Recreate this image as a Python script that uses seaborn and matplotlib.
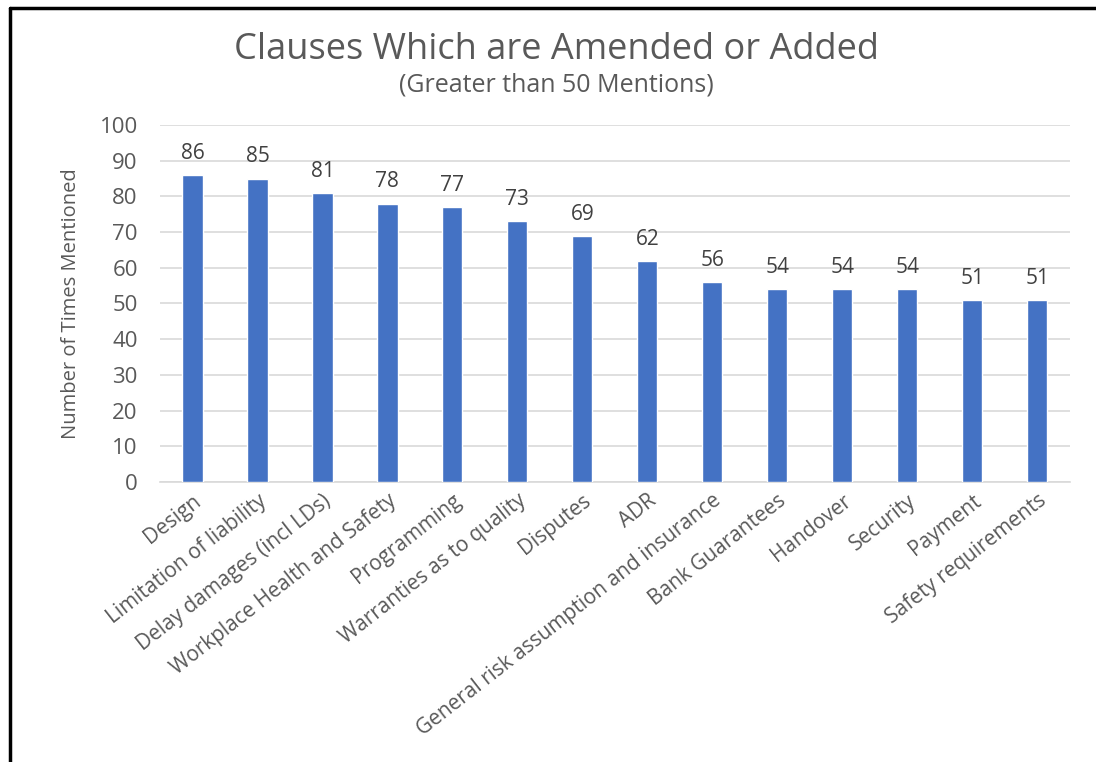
import matplotlib
matplotlib.use("Agg")
import matplotlib.pyplot as plt
import seaborn as sns
import pandas as pd
from matplotlib.lines import Line2D

categories = ["Design", "Limitation of liability", "Delay damages (incl LDs)",
              "Workplace Health and Safety", "Programming", "Warranties as to quality",
              "Disputes", "ADR", "General risk assumption and insurance",
              "Bank Guarantees", "Handover", "Security", "Payment", "Safety requirements"]
values = [86, 85, 81, 78, 77, 73, 69, 62, 56, 54, 54, 54, 51, 51]
yticks = [0, 10, 20, 30, 40, 50, 60, 70, 80, 90, 100]

sns.set_theme(style="white")
plt.rcParams['font.family'] = ['Open Sans', 'DejaVu Sans']

df = pd.DataFrame({"Clause": categories, "Count": values})

fig = plt.figure(figsize=(10.96, 7.62), dpi=100)
ax = fig.add_axes([0.146, 0.3675, 0.830, 0.4685])
sns.barplot(data=df, x="Clause", y="Count", color="#4472C4", width=0.31,
            saturation=1, ax=ax, zorder=3)
ax.set_ylim(0, 100)
ax.set_yticks(yticks)
ax.yaxis.grid(True, color="#D9D9D9", linewidth=1.2, zorder=0)
ax.set_axisbelow(True)
for s in ["top", "right", "left"]:
    ax.spines[s].set_visible(False)
ax.spines["bottom"].set_color("#D9D9D9")
ax.spines["bottom"].set_linewidth(1.2)
ax.tick_params(axis="y", colors="#595959", labelsize=16, length=0, pad=16)
ax.tick_params(axis="x", colors="#595959", labelsize=15, length=0, pad=6)
ax.set_xticks(range(len(categories)))
ax.set_xticklabels(categories, rotation=38, ha="right", rotation_mode="anchor",
                   fontsize=15, color="#595959")
ax.set_xlabel("")
ax.set_ylabel("Number of Times Mentioned", fontsize=14.5, color="#595959", labelpad=13)

for c in ax.containers:
    ax.bar_label(c, labels=[str(v) for v in values], padding=8, fontsize=15, color="#404040")

fig.text(0.508, 0.935, "Clauses Which are Amended or Added", ha="center", va="center",
         fontsize=26, color="#595959")
fig.text(0.508, 0.888, "(Greater than 50 Mentions)", ha="center", va="center",
         fontsize=18, color="#595959")

# outer frame lines
fig.add_artist(Line2D([0.0095, 0.0095], [0.0, 0.989], transform=fig.transFigure, color="black", linewidth=2.5))
fig.add_artist(Line2D([0.0095, 1.0], [0.989, 0.989], transform=fig.transFigure, color="black", linewidth=2.5))

fig.savefig("out.png", dpi=100)
